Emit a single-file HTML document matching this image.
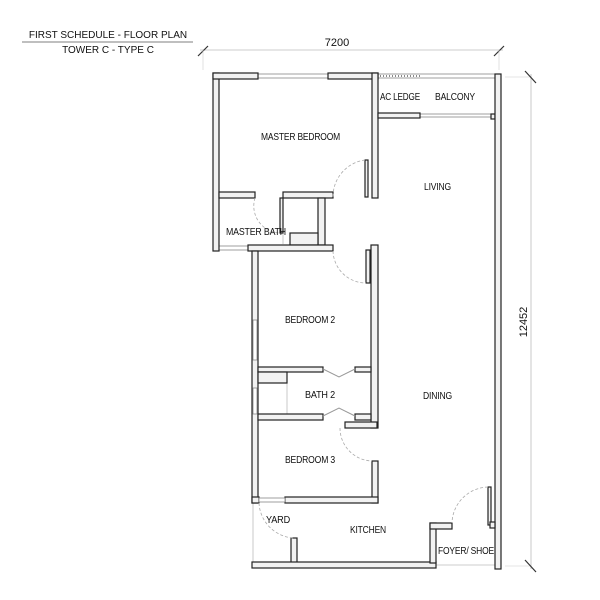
<!DOCTYPE html>
<html><head><meta charset="utf-8"><style>
html,body{margin:0;padding:0;background:#fff;}
svg{display:block;}
text{font-family:"Liberation Sans",sans-serif;fill:#111;}
.l{font-size:10px;letter-spacing:-0.2px;}
.w{fill:#f2f2f2;stroke:#222;stroke-width:1.2;}
.win{fill:#fff;stroke:#888;stroke-width:0.8;}
.arc{fill:none;stroke:#aaa;stroke-width:0.8;stroke-dasharray:3,2;}
.thin{stroke:#bbb;stroke-width:0.8;fill:none;}
</style></head><body>
<svg width="600" height="600" viewBox="0 0 600 600" xmlns="http://www.w3.org/2000/svg">
<text x="108" y="38" font-size="10" text-anchor="middle">FIRST SCHEDULE - FLOOR PLAN</text>
<line x1="22" y1="42" x2="193" y2="42" stroke="#555" stroke-width="0.8"/>
<text x="108" y="53" font-size="10" text-anchor="middle">TOWER C - TYPE C</text>
<line x1="200" y1="50" x2="503" y2="50" stroke="#bbb" stroke-width="0.8"/>
<line x1="198" y1="56" x2="208" y2="46" stroke="#333" stroke-width="1.2"/>
<line x1="494" y1="56" x2="504" y2="46" stroke="#333" stroke-width="1.2"/>
<line x1="203" y1="50" x2="203" y2="70" stroke="#ccc" stroke-width="0.6"/>
<line x1="499" y1="50" x2="499" y2="70" stroke="#ccc" stroke-width="0.6"/>
<text x="337" y="46" font-size="11" text-anchor="middle">7200</text>
<line x1="531" y1="74" x2="531" y2="569" stroke="#bbb" stroke-width="0.8"/>
<line x1="505" y1="77" x2="531" y2="77" stroke="#ccc" stroke-width="0.6"/>
<line x1="505" y1="566" x2="531" y2="566" stroke="#ccc" stroke-width="0.6"/>
<line x1="525" y1="71" x2="536" y2="83" stroke="#333" stroke-width="1.2"/>
<line x1="525" y1="560" x2="536" y2="572" stroke="#333" stroke-width="1.2"/>
<text x="527" y="322" font-size="11" text-anchor="middle" transform="rotate(-90 527 322)">12452</text>

<rect class="win" x="258" y="74" width="70" height="4"/>
<rect class="win" x="378" y="74" width="117" height="4"/>
<line x1="380" y1="76" x2="420" y2="76" stroke="#888" stroke-width="2" stroke-dasharray="1,2"/>
<rect class="win" x="420" y="114" width="75" height="3"/>
<rect class="win" x="219" y="246" width="30" height="4"/>
<line x1="253" y1="503" x2="253" y2="563" class="thin"/>
<line x1="436" y1="565" x2="495" y2="565" class="thin"/>
<line x1="287" y1="383" x2="287" y2="414" class="thin"/>
<line x1="283" y1="198" x2="283" y2="244" class="thin"/>

<rect class="w" x="213" y="73" width="6" height="178"/>
<rect class="w" x="213" y="73" width="45" height="6"/>
<rect class="w" x="328" y="73" width="50" height="6"/>
<rect class="w" x="372" y="73" width="6" height="125"/>
<rect class="w" x="365" y="160" width="3" height="37"/>
<rect class="w" x="378" y="113" width="42" height="5"/>
<rect class="w" x="491" y="114" width="4" height="5"/>
<rect class="w" x="495" y="74" width="6" height="495"/>
<rect class="w" x="219" y="192" width="36" height="6"/>
<rect class="w" x="283" y="192" width="50" height="6"/>
<rect class="w" x="280" y="198" width="3" height="35"/>
<rect class="w" x="318" y="198" width="7" height="47"/>
<rect class="w" x="290" y="233" width="28" height="12"/>
<rect class="w" x="248" y="245" width="85" height="6"/>
<rect class="w" x="252" y="251" width="6" height="252"/>
<rect class="win" x="253" y="320" width="4" height="40"/>
<rect class="win" x="253" y="388" width="4" height="26"/>
<rect class="w" x="371" y="245" width="7" height="183"/>
<rect class="w" x="366" y="250" width="4" height="33"/>
<rect class="w" x="258" y="367" width="65" height="5"/>
<rect class="w" x="355" y="367" width="16" height="5"/>
<rect class="w" x="258" y="372" width="29" height="11"/>
<rect class="w" x="258" y="414" width="65" height="6"/>
<rect class="w" x="355" y="414" width="16" height="6"/>
<rect class="w" x="345" y="422" width="32" height="6"/>
<polyline points="323,369 339,377 355,369" fill="none" stroke="#999" stroke-width="1"/>
<polyline points="323,416 339,408 355,416" fill="none" stroke="#999" stroke-width="1"/>
<rect class="w" x="372" y="461" width="6" height="42"/>
<rect class="w" x="285" y="497" width="93" height="6"/>
<rect class="w" x="252" y="497" width="7" height="6"/>
<rect class="win" x="259" y="498" width="26" height="4"/>
<rect class="w" x="291" y="538" width="6" height="25"/>
<rect class="w" x="252" y="562" width="184" height="6"/>
<rect class="w" x="430" y="523" width="6" height="40"/>
<rect class="w" x="430" y="523" width="22" height="6"/>
<rect class="w" x="488" y="487" width="3" height="38"/>
<rect class="w" x="490" y="522" width="5" height="6"/>

<path class="arc" d="M365,160 A37,37 0 0 0 333,197"/>
<path class="arc" d="M255,198 A27,27 0 0 0 280,233"/>
<path class="arc" d="M333,251 A33,33 0 0 0 366,283"/>
<path class="arc" d="M340,428 A33,33 0 0 0 372,461"/>
<path class="arc" d="M259,503 A37,37 0 0 0 293,538"/>
<path class="arc" d="M488,487 A37,37 0 0 0 452,523"/>

<text class="l" x="380" y="100" textLength="40" lengthAdjust="spacingAndGlyphs">AC LEDGE</text>
<text class="l" x="435" y="100" textLength="40" lengthAdjust="spacingAndGlyphs">BALCONY</text>
<text class="l" x="261" y="140" textLength="79" lengthAdjust="spacingAndGlyphs">MASTER BEDROOM</text>
<text class="l" x="424" y="190" textLength="27" lengthAdjust="spacingAndGlyphs">LIVING</text>
<text class="l" x="226" y="235" textLength="60" lengthAdjust="spacingAndGlyphs">MASTER BATH</text>
<text class="l" x="285" y="323" textLength="50" lengthAdjust="spacingAndGlyphs">BEDROOM 2</text>
<text class="l" x="305" y="398" textLength="30" lengthAdjust="spacingAndGlyphs">BATH 2</text>
<text class="l" x="423" y="399" textLength="29" lengthAdjust="spacingAndGlyphs">DINING</text>
<text class="l" x="285" y="463" textLength="50" lengthAdjust="spacingAndGlyphs">BEDROOM 3</text>
<text class="l" x="266" y="523" textLength="24" lengthAdjust="spacingAndGlyphs">YARD</text>
<text class="l" x="350" y="533" textLength="36" lengthAdjust="spacingAndGlyphs">KITCHEN</text>
<text class="l" x="438" y="554" textLength="56" lengthAdjust="spacingAndGlyphs">FOYER/ SHOE</text>
</svg>
</body></html>
